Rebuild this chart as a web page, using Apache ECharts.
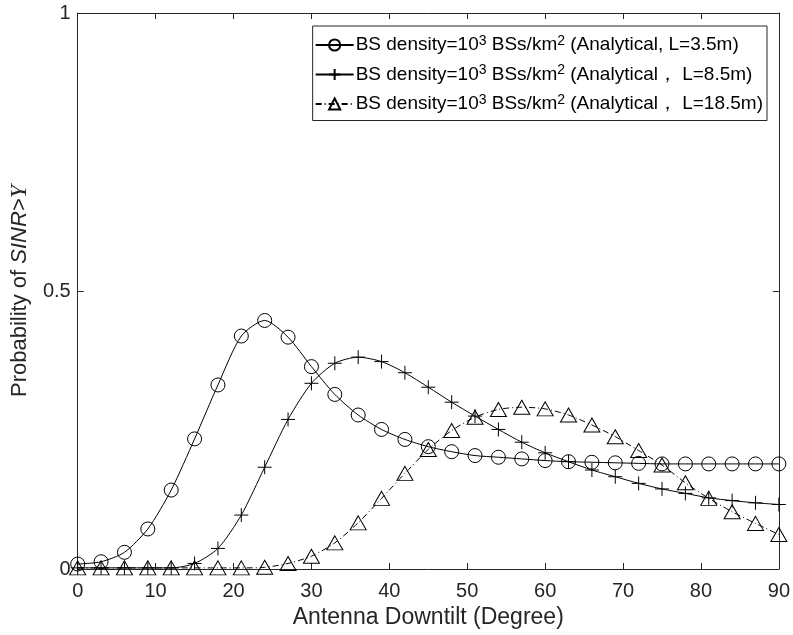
<!DOCTYPE html>
<html>
<head>
<meta charset="utf-8">
<script src="https://cdn.jsdelivr.net/npm/echarts@6/dist/echarts.min.js"></script>
<style>html,body{margin:0;padding:0;background:#fff}#c{width:793px;height:635px}</style>
</head>
<body>
<div id="c"></div>
<script>
var downtilt = [0,3,6,9,12,15,18,21,24,27,30,33,36,39,42,45,48,51,54,57,60,63,66,69,72,75,78,81,84,87,90];
var probL35 = [0.009,0.013,0.030,0.072,0.142,0.234,0.331,0.419,0.447,0.417,0.364,0.314,0.277,0.251,0.233,0.220,0.211,0.204,0.201,0.198,0.195,0.193,0.192,0.191,0.190,0.189,0.189,0.189,0.189,0.189,0.189];
var probL85 = [0.002,0.002,0.002,0.002,0.002,0.010,0.037,0.097,0.183,0.269,0.334,0.370,0.381,0.373,0.353,0.327,0.300,0.275,0.251,0.228,0.209,0.193,0.178,0.166,0.154,0.144,0.136,0.128,0.123,0.119,0.116];
var probL185 = [0.002,0.002,0.002,0.002,0.002,0.002,0.002,0.002,0.003,0.010,0.023,0.047,0.083,0.127,0.172,0.215,0.249,0.273,0.287,0.291,0.288,0.277,0.259,0.238,0.213,0.187,0.155,0.127,0.103,0.082,0.062];
var seriesNames = ['L=3.5m', 'L=8.5m', 'L=18.5m'];
var legendSuffix = ['(Analytical, L=3.5m)', '(Analytical\uFF0C L=8.5m)', '(Analytical\uFF0C L=18.5m)'];
var xTicks = {min: 0, max: 90, step: 10};
var yTicks = {min: 0, max: 1, step: 0.5};

function pairs(ys) { return downtilt.map(function (x, i) { return [x, ys[i]]; }); }

var FONT = 'Liberation Sans, Arial, Helvetica, sans-serif';
var TXT = '#262626';
var AX = '#262626';

var chart = echarts.init(document.getElementById('c'), null, {renderer: 'canvas'});

function mkSeries(name, ys, symbol, size, type) {
  return {
    name: name,
    type: 'line',
    data: pairs(ys),
    smooth: 0.25,
    symbol: symbol,
    symbolSize: size,
    showAllSymbol: true,
    lineStyle: {color: '#000', width: 1, type: type},
    itemStyle: {color: 'rgba(0,0,0,0)', borderColor: '#000', borderWidth: 1},
    emphasis: {disabled: true},
    animation: false,
    z: 3
  };
}

var axisCommon = {
  type: 'value',
  splitLine: {show: false},
  axisLine: {show: true, onZero: false, lineStyle: {color: AX, width: 1}},
  axisTick: {show: true, inside: true, length: 6, lineStyle: {color: AX}},
  axisLabel: {color: TXT, fontFamily: FONT, fontSize: 20}
};

var option = {
  backgroundColor: '#fff',
  animation: false,
  grid: {left: 76, right: 14, top: 13, bottom: 66, containLabel: false},
  xAxis: [
    Object.assign({}, axisCommon, {
      min: xTicks.min, max: xTicks.max, interval: xTicks.step, position: 'bottom',
      name: 'Antenna Downtilt (Degree)', nameLocation: 'middle', nameGap: 37,
      nameTextStyle: {color: TXT, fontFamily: FONT, fontSize: 23},
      axisLabel: {color: TXT, fontFamily: FONT, fontSize: 20, margin: 12}
    }),
    Object.assign({}, axisCommon, {
      min: xTicks.min, max: xTicks.max, interval: xTicks.step, position: 'top',
      axisLabel: {show: false}
    })
  ],
  yAxis: [
    Object.assign({}, axisCommon, {
      min: yTicks.min, max: yTicks.max, interval: yTicks.step, position: 'left',
      name: '{n|Probability of }{i|SINR>}{u|\u03A5}', nameLocation: 'middle', nameGap: 43, nameRotate: 90,
      nameTextStyle: {color: TXT, fontFamily: FONT, fontSize: 22,
        rich: {n: {fontFamily: FONT, fontSize: 22, color: TXT},
               i: {fontFamily: FONT, fontSize: 22, color: TXT, fontStyle: 'italic'},
               u: {fontFamily: 'Liberation Serif, DejaVu Serif, serif', fontSize: 24, color: TXT, fontStyle: 'italic'}}},
      axisLabel: {color: TXT, fontFamily: FONT, fontSize: 20, margin: 7,
        formatter: function (v) { return v === 0 ? '0' : (v === 1 ? '1' : String(v)); }}
    }),
    Object.assign({}, axisCommon, {
      min: yTicks.min, max: yTicks.max, interval: yTicks.step, position: 'right',
      axisLabel: {show: false}
    })
  ],
  legend: {
    orient: 'vertical',
    right: 26,
    top: 26,
    padding: [8, 4, 7, 2],
    itemGap: 9,
    itemWidth: 38,
    itemHeight: 14,
    backgroundColor: '#fff',
    borderColor: '#262626',
    borderWidth: 1,
    borderRadius: 0,
    selectedMode: false,
    data: seriesNames,
    formatter: function (name) {
      var i = seriesNames.indexOf(name);
      return '{n|BS density=10}{s|3}{n| BSs/km}{s|2}{n| ' + legendSuffix[i] + '}';
    },
    textStyle: {
      color: '#000', fontFamily: FONT, fontSize: 19, padding: [0, 0, 0, -3],
      rich: {
        n: {fontFamily: FONT, fontSize: 19, color: '#000', lineHeight: 22},
        s: {fontFamily: FONT, fontSize: 14, color: '#000', lineHeight: 13, verticalAlign: 'top'}
      }
    }
  },
  series: [
    mkSeries(seriesNames[0], probL35, 'circle', 14, 'solid'),
    mkSeries(seriesNames[1], probL85, 'path://M5,0L5,10M0,5L10,5', 14, 'solid'),
    mkSeries(seriesNames[2], probL185, 'triangle', [16, 14], [6, 3, 1, 3])
  ]
};
chart.setOption(option);
</script>
</body>
</html>
